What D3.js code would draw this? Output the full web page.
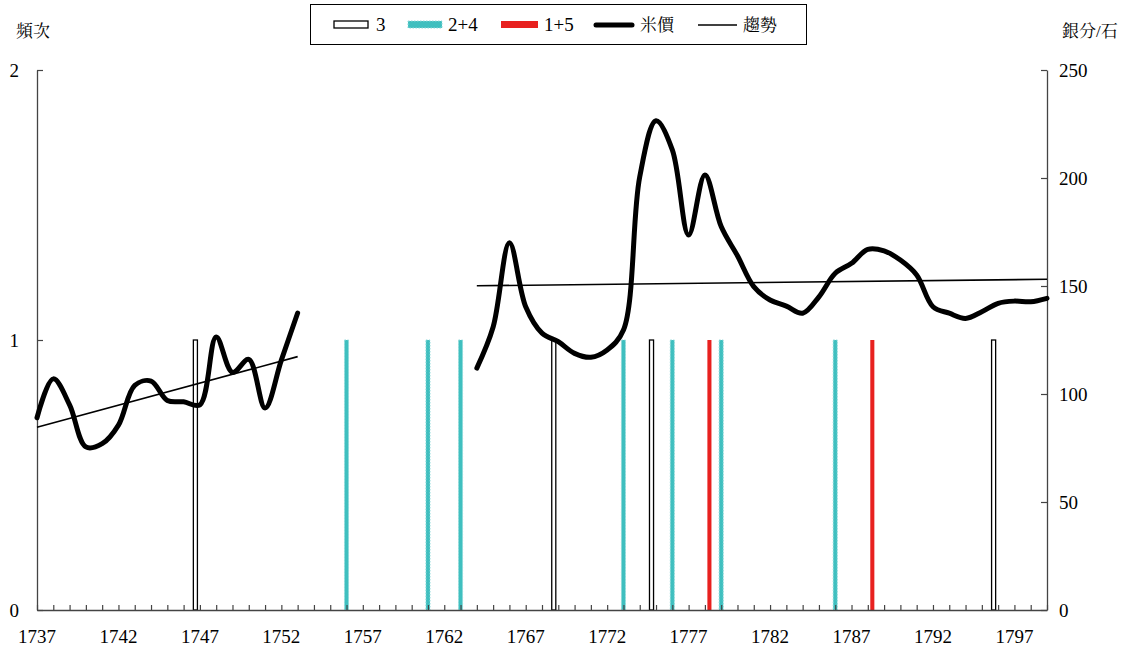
<!DOCTYPE html>
<html>
<head>
<meta charset="utf-8">
<script src="https://cdn.jsdelivr.net/npm/d3@7"></script>
<style>
    body { margin: 0; background: #fff; }
</style>
</head>
<body>
<div id="chart"></div>
<script>
// years shown on the axis
var tickYears = [1737, 1742, 1747, 1752, 1757, 1762, 1767, 1772, 1777, 1782, 1787, 1792, 1797];

// 頻次 bars, one per year listed
var years3 = [1747, 1769, 1775, 1796];
var freq3 = [1, 1, 1, 1];
var years24 = [1756, 1761, 1763, 1773, 1776, 1779, 1786];
var freq24 = [1, 1, 1, 1, 1, 1, 1];
var years15 = [1778, 1788];
var freq15 = [1, 1];

// 米價 (銀分/石), two runs with a gap
var priceYears1 = [1737, 1738, 1739, 1740, 1741, 1742, 1743, 1744, 1745, 1746, 1747, 1748, 1749, 1750, 1751, 1752, 1753];
var price1 = [89, 107, 95, 75.5, 77, 85.6, 104, 106, 97, 96.4, 95, 126.4, 110, 116, 93.5, 115.7, 137.5];
var priceYears2 = [1764, 1765, 1766, 1767, 1768, 1769, 1770, 1771, 1772, 1773, 1774, 1775, 1776, 1777, 1778, 1779, 1780, 1781,
    1782, 1783, 1784, 1785, 1786, 1787, 1788, 1789, 1790, 1791, 1792, 1793, 1794, 1795, 1796, 1797, 1798, 1799];
var price2 = [112, 131, 170, 140.4, 128.2, 124.2, 118.8, 117, 120.4, 129.6, 200.6, 226.5, 213, 173.6, 201.4, 177.5, 164, 149.7,
    143.5, 140.7, 137.4, 145, 155.9, 160.5, 167, 166.3, 162, 155.1, 140.4, 137.4, 135, 138.1, 142, 143, 142.7, 144.3];

// 趨勢 end points
var trendYears1 = [1737, 1753];
var trend1 = [84.6, 117.3];
var trendYears2 = [1764, 1799];
var trend2 = [150.1, 153.1];

var W = 1121, H = 650;
var FONT = "'Liberation Serif', 'Noto Serif CJK TC', serif";
var svg = d3.select('#chart').append('svg').attr('width', W).attr('height', H);

function label(sel, size) {
    return sel.style('font-family', FONT).style('font-size', size + 'px').attr('fill', '#000');
}

var x = d3.scaleLinear().domain([1737, 1799]).range([37, 1047]);
var yL = d3.scaleLinear().domain([0, 2]).range([610, 70]);
var yR = d3.scaleLinear().domain([0, 250]).range([610, 70]);
var slot = d3.scaleBand().domain(['3', '2+4', '1+5']).range([-7, 7]).padding(0.1);

// bars
function bars(yrs, vals, key, cls) {
    var data = yrs.map(function(d, i) { return { yr: d, v: vals[i] }; });
    return svg.append('g').attr('class', cls).selectAll('rect')
        .data(data).enter().append('rect')
        .attr('x', function(d) { return x(d.yr) + slot(key); })
        .attr('width', slot.bandwidth())
        .attr('y', function(d) { return yL(d.v); })
        .attr('height', function(d) { return yL(0) - yL(d.v); });
}
bars(years3, freq3, '3', 'b3').attr('fill', '#fff').attr('stroke', '#000').attr('stroke-width', 1.3);
bars(years24, freq24, '2+4', 'b24').attr('fill', '#3fbfbf').attr('stroke', '#8fdada')
    .attr('stroke-width', 1).attr('stroke-dasharray', '1.5,1.5');
bars(years15, freq15, '1+5', 'b15').attr('fill', '#e8211f');

// axes
var axisColor = '#444';
var xAxis = d3.axisBottom(x).tickValues(d3.range(1737, 1800)).tickSizeInner(-5).tickSizeOuter(0).tickFormat('');
var gx = svg.append('g').attr('transform', 'translate(0,610)').call(xAxis);
gx.select('.domain').attr('stroke', axisColor).attr('stroke-width', 1.3);
gx.selectAll('.tick line').attr('stroke', axisColor).attr('stroke-width', 1.2);

label(svg.append('g').selectAll('text').data(tickYears).enter().append('text')
    .attr('x', function(d) { return x(d); })
    .attr('y', 643)
    .attr('text-anchor', 'middle')
    .text(function(d) { return d; }), 19);

var gl = svg.append('g').attr('transform', 'translate(37,0)')
    .call(d3.axisLeft(yL).tickValues([0, 1, 2]).tickSizeInner(-6).tickSizeOuter(0).tickPadding(18).tickFormat(d3.format('d')));
gl.select('.domain').attr('stroke', axisColor).attr('stroke-width', 1.3);
gl.selectAll('.tick line').attr('stroke', axisColor).attr('stroke-width', 1.2);
label(gl.selectAll('.tick text'), 19).attr('dy', '0.35em');

var gr = svg.append('g').attr('transform', 'translate(1047,0)')
    .call(d3.axisRight(yR).tickValues([0, 50, 100, 150, 200, 250]).tickSizeInner(-6).tickSizeOuter(0).tickPadding(12));
gr.select('.domain').attr('stroke', axisColor).attr('stroke-width', 1.3);
gr.selectAll('.tick line').attr('stroke', axisColor).attr('stroke-width', 1.2);
label(gr.selectAll('.tick text'), 19).attr('dy', '0.35em');

label(svg.append('text').attr('x', 16).attr('y', 37).text('頻次'), 17);
label(svg.append('text').attr('x', 1062).attr('y', 37).text('銀分/石'), 17);

// rice price lines
var line = d3.line()
    .x(function(d) { return x(d[0]); })
    .y(function(d) { return yR(d[1]); })
    .curve(d3.curveCatmullRom.alpha(0.5));

[[priceYears1, price1], [priceYears2, price2]].forEach(function(p) {
    svg.append('path')
        .datum(p[0].map(function(yr, i) { return [yr, p[1][i]]; }))
        .attr('d', line)
        .attr('fill', 'none')
        .attr('stroke', '#000')
        .attr('stroke-width', 5)
        .attr('stroke-linecap', 'round')
        .attr('stroke-linejoin', 'round');
});

var straight = d3.line()
    .x(function(d) { return x(d[0]); })
    .y(function(d) { return yR(d[1]); });
[[trendYears1, trend1], [trendYears2, trend2]].forEach(function(p) {
    svg.append('path')
        .datum(p[0].map(function(yr, i) { return [yr, p[1][i]]; }))
        .attr('d', straight)
        .attr('fill', 'none')
        .attr('stroke', '#000')
        .attr('stroke-width', 1.6);
});

// legend
var lg = svg.append('g');
lg.append('rect').attr('x', 310.5).attr('y', 4.5).attr('width', 496).attr('height', 40)
    .attr('fill', '#fff').attr('stroke', '#000').attr('stroke-width', 1);
var ly = 25;
lg.append('rect').attr('x', 334).attr('y', 21).attr('width', 34).attr('height', 7)
    .attr('fill', '#fff').attr('stroke', '#000').attr('stroke-width', 1.3);
label(lg.append('text').attr('x', 376).attr('y', ly + 6).text('3'), 19);
lg.append('rect').attr('x', 408).attr('y', 21).attr('width', 34).attr('height', 7)
    .attr('fill', '#3fbfbf').attr('stroke', '#8fdada').attr('stroke-dasharray', '1.5,1.5');
label(lg.append('text').attr('x', 448).attr('y', ly + 6).text('2+4'), 19);
lg.append('rect').attr('x', 501).attr('y', 21).attr('width', 37).attr('height', 7).attr('fill', '#e8211f');
label(lg.append('text').attr('x', 544).attr('y', ly + 6).text('1+5'), 19);
lg.append('line').attr('x1', 596).attr('x2', 632).attr('y1', ly).attr('y2', ly)
    .attr('stroke', '#000').attr('stroke-width', 5).attr('stroke-linecap', 'round');
label(lg.append('text').attr('x', 640).attr('y', ly + 6).text('米價'), 17);
lg.append('line').attr('x1', 698).attr('x2', 737).attr('y1', ly).attr('y2', ly)
    .attr('stroke', '#000').attr('stroke-width', 1.6);
label(lg.append('text').attr('x', 743).attr('y', ly + 6).text('趨勢'), 17);
</script>
</body>
</html>
